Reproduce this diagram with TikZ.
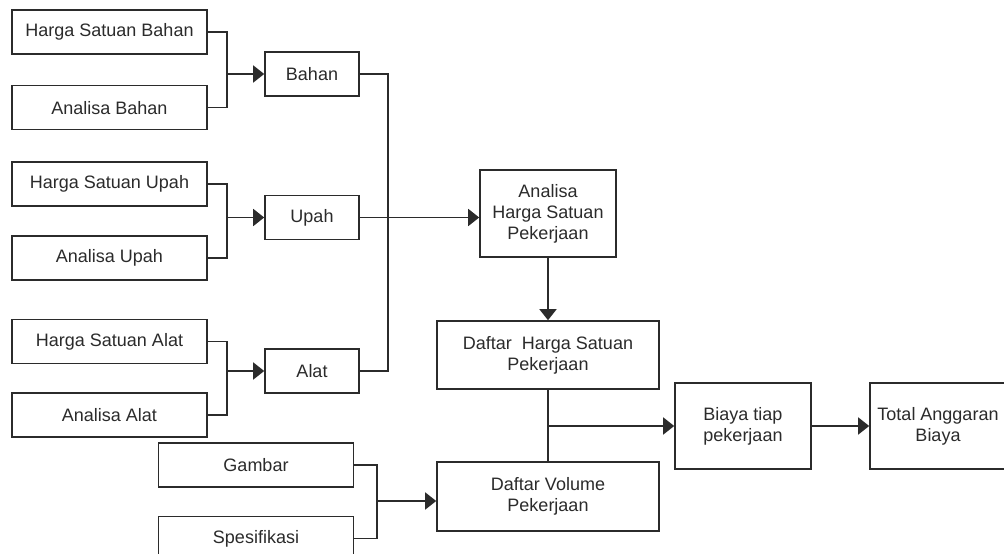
\documentclass[tikz,border=0pt]{standalone}
\usepackage{fontspec}
\setmainfont{Liberation Sans}
\usetikzlibrary{positioning, arrows.meta}
\definecolor{linegray}{HTML}{2B2B2B}

\begin{document}
\begin{tikzpicture}[
      x=1pt, y=-1pt,
      node distance=28pt and 58pt,
      block/.style={rectangle, draw=linegray, line width=1.6pt, fill=white,
                    text=linegray, minimum width=195pt, minimum height=44pt,
                    inner sep=2pt, align=center,
                    font=\fontsize{18}{21}\selectfont},
      item/.style={block, minimum width=94pt},
      wide/.style={block, minimum width=222pt, minimum height=68pt},
      result/.style={block, minimum width=136pt, minimum height=86pt},
      link/.style={draw=linegray, line width=1.6pt},
      arrow/.style={link, -{Triangle[length=11pt, width=17pt]}},
    ]
    \useasboundingbox (0,0) rectangle (1004,554);

    % input columns
    \node[block] (hsb) at (109.5,32) {Harga Satuan Bahan};
    \node[block, below=30pt of hsb] (ab) {Analisa Bahan};
    \node[block, below=31pt of ab] (hsu) {Harga Satuan Upah};
    \node[block, below=28pt of hsu] (au) {Analisa Upah};
    \node[block, below=38pt of au] (hsa) {Harga Satuan Alat};
    \node[block, below=28pt of hsa] (aa) {Analisa Alat};

    \node[item] (bahan) at (312,74) {Bahan};
    \node[item] (upah) at (312,217.5) {Upah};
    \node[item] (alat) at (312,371) {Alat};

    \node[result, minimum height=87pt] (ahsp) at (548,213.5)
      {Analisa \\ Harga Satuan \\ Pekerjaan};
    \node[wide] (dhsp) at (548,355) {Daftar\ \ Harga Satuan \\ Pekerjaan};
    \node[wide, minimum height=69pt] (dvp) at (548,496.5)
      {Daftar Volume \\ Pekerjaan};

    \node[block] (gambar) at (256,465) {Gambar};
    \node[block, below=28pt of gambar] (spes) {Spesifikasi};

    \node[result] (biaya) at (743,426) {Biaya tiap \\ pekerjaan};
    \node[result] (total) at (938,426) {Total Anggaran \\ Biaya};

    % junctions
    \coordinate[left=37pt of bahan.west] (jb);
    \coordinate[left=37pt of upah.west] (ju);
    \coordinate[left=37pt of alat.west] (ja);
    \coordinate[right=28pt of upah.east] (bus);
    \coordinate (jv) at (dhsp.south |- biaya.west);
    \coordinate (jg) at (377,501);

    \draw[link] (hsb.east) -| (jb) |- (ab.east);
    \draw[link] (hsu.east) -| (ju) |- (au.east);
    \draw[link] (hsa.east) -| (ja) |- (aa.east);
    \draw[arrow] (jb) -- (bahan);
    \draw[arrow] (ju) -- (upah);
    \draw[arrow] (ja) -- (alat);

    \draw[link] (bahan.east) -| (bus) |- (alat.east);
    \draw[arrow] (upah.east) -- (upah.east -| ahsp.west);
    \draw[arrow] (ahsp) -- (dhsp);
    \draw[link] (dhsp) -- (dvp);
    \draw[arrow] (jv) -- (biaya);
    \draw[arrow] (biaya) -- (total);

    \draw[link] (gambar.east) -| (jg) |- (spes.east);
    \draw[arrow] (jg) -- (jg -| dvp.west);
  \end{tikzpicture}
\end{document}
